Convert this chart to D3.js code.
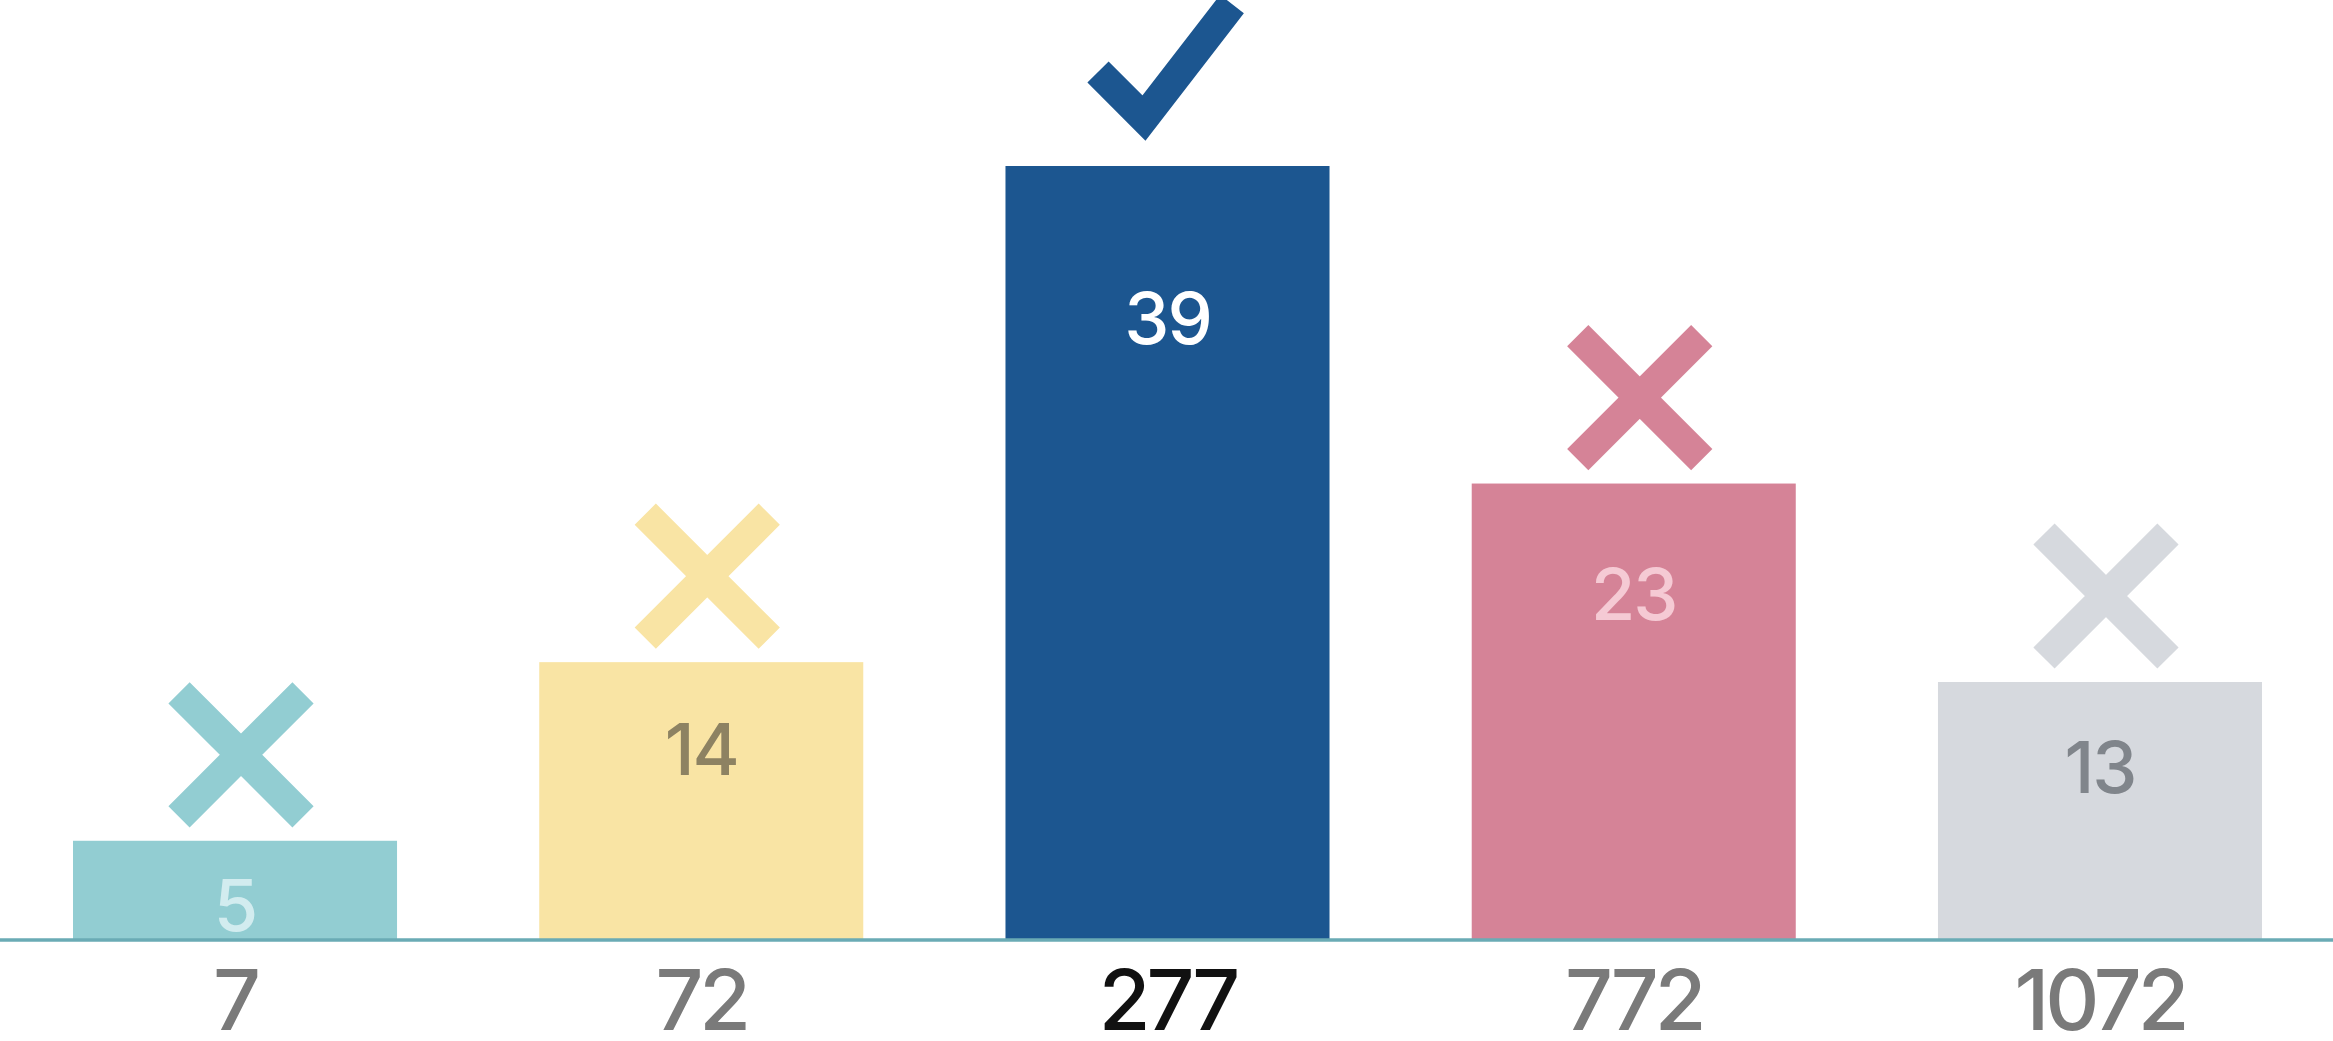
<!DOCTYPE html>
<html>
<head>
<meta charset="utf-8">
<script src="https://cdn.jsdelivr.net/npm/d3@7"></script>
<style>
  html, body { margin: 0; padding: 0; background: #ffffff; overflow: hidden; }
  svg { display: block; }
  text { font-family: Inter, "Noto Sans", sans-serif; }
</style>
</head>
<body>
<script>
// ---- data ----
const categories = ["7", "72", "277", "772", "1072"];
const values = [5, 14, 39, 23, 13];
const barColors = ["#92cdd2", "#f9e4a4", "#1c5690", "#d58397", "#d6d9de"];
const valueLabelColors = ["#d2ecef", "#8d8262", "#ffffff", "#f5cad4", "#80858b"];
const categoryLabelColors = ["#7a7a7a", "#7a7a7a", "#111111", "#7a7a7a", "#7a7a7a"];
const marks = ["cross", "cross", "check", "cross", "cross"];

// ---- layout ----
const W = 2333, H = 1041;
const svg = d3.select("body").append("svg").attr("width", W).attr("height", H);

const x = d3.scaleBand().domain(categories).range([73, 2262]).paddingInner(0.305).paddingOuter(0);
const y = d3.scaleLinear().domain([0, 39]).range([940, 166]);

const data = categories.map((c, i) => ({ c, v: values[i], i }));

// bars
svg.append("g").selectAll("rect").data(data).join("rect")
  .attr("x", d => x(d.c))
  .attr("y", d => y(d.v))
  .attr("width", x.bandwidth())
  .attr("height", d => y(0) - y(d.v))
  .attr("fill", d => barColors[d.i]);

// baseline axis line
svg.append("line")
  .attr("x1", 0).attr("x2", W)
  .attr("y1", y(0)).attr("y2", y(0))
  .attr("stroke", "#6aabb5").attr("stroke-width", 3.5);

// marks above bars
const markW = 30;
const gMarks = svg.append("g");
data.forEach(d => {
  const cx = x(d.c) + x.bandwidth() / 2;
  const top = y(d.v);
  if (marks[d.i] === "check") {
    const pts = [[-69.5, -94], [-23.5, -48], [64.5, -162]].map(p => [cx + p[0], top + p[1]]);
    gMarks.append("path")
      .attr("d", d3.line()(pts))
      .attr("fill", "none")
      .attr("stroke", barColors[d.i])
      .attr("stroke-width", markW)
      .attr("stroke-linejoin", "miter")
      .attr("stroke-linecap", "butt");
  } else {
    const mx = cx + 6, my = top - 86, a = 62;
    gMarks.append("path")
      .attr("d", `M${mx - a},${my - a}L${mx + a},${my + a}M${mx + a},${my - a}L${mx - a},${my + a}`)
      .attr("fill", "none")
      .attr("stroke", barColors[d.i])
      .attr("stroke-width", markW)
      .attr("stroke-linecap", "butt");
  }
});

// value labels inside bars
const valueFont = 72;
svg.append("g").selectAll("text").data(data).join("text")
  .attr("x", d => x(d.c) + x.bandwidth() / 2)
  .attr("y", d => {
    const top = y(d.v), h = y(0) - y(d.v);
    const center = top + 51 + 0.13 * h;
    return center + valueFont * 0.727 / 2;
  })
  .attr("text-anchor", "middle")
  .attr("font-size", valueFont)
  .attr("font-weight", 500)
  .attr("letter-spacing", -2)
  .attr("fill", d => valueLabelColors[d.i])
  .text(d => d.v);

// category labels
svg.append("g").selectAll("text").data(data).join("text")
  .attr("x", d => x(d.c) + x.bandwidth() / 2)
  .attr("y", 1030)
  .attr("text-anchor", "middle")
  .attr("font-size", 84)
  .attr("font-weight", 500)
  .attr("letter-spacing", -4)
  .attr("fill", d => categoryLabelColors[d.i])
  .text(d => d.c);
</script>
</body>
</html>
